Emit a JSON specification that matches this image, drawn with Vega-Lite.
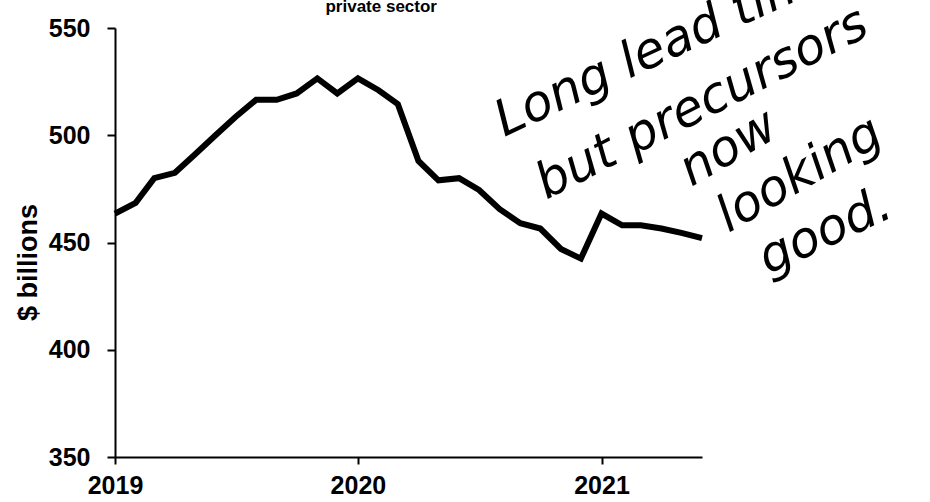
{
  "$schema": "https://vega.github.io/schema/vega-lite/v6.json",
  "width": 587,
  "height": 429,
  "autosize": "none",
  "padding": {"left": 115, "top": 28, "right": 228, "bottom": 45},
  "background": "white",
  "config": {
    "view": {"stroke": null},
    "font": "Liberation Sans",
    "axis": {
      "grid": false,
      "domainColor": "black",
      "domainWidth": 2,
      "tickColor": "black",
      "tickWidth": 2,
      "labelColor": "black",
      "labelFont": "Liberation Sans",
      "labelFontWeight": "bold",
      "titleColor": "black",
      "titleFont": "Liberation Sans",
      "titleFontWeight": "bold"
    },
    "axisX": {
      "tickSize": 7,
      "labelFontSize": 25,
      "labelPadding": 9,
      "labelFlush": false,
      "labelOverlap": false
    },
    "axisY": {
      "tickSize": 8,
      "labelFontSize": 25,
      "labelPadding": 17,
      "titleFontSize": 27
    }
  },
  "datasets": {
    "series": [
      {"date": "2019-01-01", "value": 463.5},
      {"date": "2019-02-01", "value": 468.5},
      {"date": "2019-03-01", "value": 480},
      {"date": "2019-04-01", "value": 482.5},
      {"date": "2019-05-01", "value": 491},
      {"date": "2019-06-01", "value": 500},
      {"date": "2019-07-01", "value": 508.5},
      {"date": "2019-08-01", "value": 516.5},
      {"date": "2019-09-01", "value": 516.5},
      {"date": "2019-10-01", "value": 519.5},
      {"date": "2019-11-01", "value": 526.5},
      {"date": "2019-12-01", "value": 519.5},
      {"date": "2020-01-01", "value": 526.5},
      {"date": "2020-02-01", "value": 521},
      {"date": "2020-03-01", "value": 514.5},
      {"date": "2020-04-01", "value": 488},
      {"date": "2020-05-01", "value": 479},
      {"date": "2020-06-01", "value": 480},
      {"date": "2020-07-01", "value": 474.5},
      {"date": "2020-08-01", "value": 465.5},
      {"date": "2020-09-01", "value": 459},
      {"date": "2020-10-01", "value": 456.5},
      {"date": "2020-11-01", "value": 447},
      {"date": "2020-12-01", "value": 442.5},
      {"date": "2021-01-01", "value": 463.5},
      {"date": "2021-02-01", "value": 458},
      {"date": "2021-03-01", "value": 458},
      {"date": "2021-04-01", "value": 456.5},
      {"date": "2021-05-01", "value": 454.5},
      {"date": "2021-06-01", "value": 452}
    ],
    "notes": [
      {"date": "2020-08-08", "value": 499.2, "note": "Long lead time", "group": "a"},
      {"date": "2020-10-10", "value": 469.9, "note": "but precursors", "group": "b"},
      {"date": "2021-05-16", "value": 475.9, "note": "now", "group": "c"},
      {"date": "2021-07-11", "value": 454.4, "note": "looking", "group": "c"},
      {"date": "2021-09-08", "value": 434.8, "note": "good.", "group": "a"}
    ],
    "heading": [
      {"date": "2020-02-05", "value": 557.5, "note": "private sector"}
    ]
  },
  "layer": [
    {
      "data": {"name": "series"},
      "mark": {"type": "line", "color": "black", "strokeWidth": 6, "clip": false},
      "encoding": {
        "x": {
          "field": "date",
          "type": "temporal",
          "scale": {
            "type": "utc",
            "domain": [
              {"year": 2019, "month": 1, "date": 1, "utc": true},
              {"year": 2021, "month": 6, "date": 1, "utc": true}
            ]
          },
          "axis": {
            "title": null,
            "values": [
              {"year": 2019, "month": 1, "date": 1, "utc": true},
              {"year": 2020, "month": 1, "date": 1, "utc": true},
              {"year": 2021, "month": 1, "date": 1, "utc": true}
            ],
            "format": "%Y",
            "formatType": "utc"
          }
        },
        "y": {
          "field": "value",
          "type": "quantitative",
          "scale": {"domain": [350, 550], "zero": false, "nice": false},
          "axis": {
            "title": "$ billions",
            "values": [350, 400, 450, 500, 550],
            "titleAngle": -90,
            "titleAlign": "center",
            "titleBaseline": "middle",
            "titleX": -87,
            "titleY": 234
          }
        }
      }
    },
    {
      "data": {"name": "heading"},
      "mark": {
        "type": "text",
        "align": "center",
        "baseline": "alphabetic",
        "font": "Liberation Sans",
        "fontWeight": "bold",
        "fontSize": 17,
        "color": "black",
        "clip": false
      },
      "encoding": {
        "x": {"field": "date", "type": "temporal"},
        "y": {"field": "value", "type": "quantitative"},
        "text": {"field": "note"}
      }
    },
    {
      "data": {"name": "notes"},
      "transform": [{"filter": "datum.group === 'a'"}],
      "mark": {
        "type": "text",
        "align": "left",
        "baseline": "alphabetic",
        "angle": -25,
        "font": "DejaVu Sans",
        "fontStyle": "italic",
        "fontWeight": 200,
        "fontSize": 50,
        "color": "black",
        "clip": false
      },
      "encoding": {
        "x": {"field": "date", "type": "temporal"},
        "y": {"field": "value", "type": "quantitative"},
        "text": {"field": "note"}
      }
    },
    {
      "data": {"name": "notes"},
      "transform": [{"filter": "datum.group === 'b'"}],
      "mark": {
        "type": "text",
        "align": "left",
        "baseline": "alphabetic",
        "angle": -27,
        "font": "DejaVu Sans",
        "fontStyle": "italic",
        "fontWeight": 200,
        "fontSize": 50,
        "color": "black",
        "clip": false
      },
      "encoding": {
        "x": {"field": "date", "type": "temporal"},
        "y": {"field": "value", "type": "quantitative"},
        "text": {"field": "note"}
      }
    },
    {
      "data": {"name": "notes"},
      "transform": [{"filter": "datum.group === 'c'"}],
      "mark": {
        "type": "text",
        "align": "left",
        "baseline": "alphabetic",
        "angle": -30,
        "font": "DejaVu Sans",
        "fontStyle": "italic",
        "fontWeight": 200,
        "fontSize": 50,
        "color": "black",
        "clip": false
      },
      "encoding": {
        "x": {"field": "date", "type": "temporal"},
        "y": {"field": "value", "type": "quantitative"},
        "text": {"field": "note"}
      }
    }
  ]
}
